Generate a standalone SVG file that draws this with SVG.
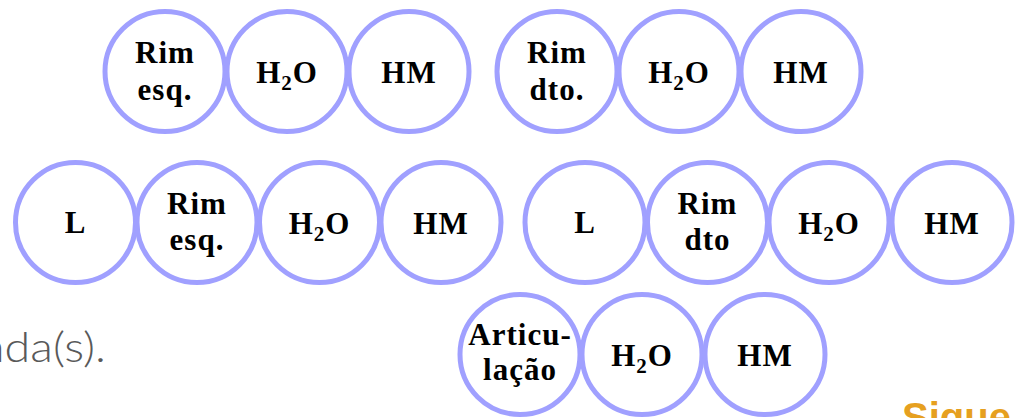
<svg xmlns="http://www.w3.org/2000/svg" width="1015" height="418" viewBox="0 0 1015 418">
<style>
.c{fill:none;stroke:#a0a0ff;stroke-width:5}
.t{font-family:"Liberation Serif",serif;font-weight:bold;font-size:31px;fill:#000;text-anchor:middle;letter-spacing:1px}
.s{font-size:21px}
.g{font-family:Lato,"Liberation Sans",sans-serif;font-weight:300;font-size:42px;fill:#595959}
.o{font-family:"Liberation Sans",Arial,sans-serif;font-weight:bold;font-size:40px;fill:#e6a020}
</style>
<g id="connectors"></g>
<g id="r1-rimesq"><circle class="c" cx="165" cy="71.5" r="60"/><text class="t" x="165" y="63">Rim</text><text class="t" x="165" y="100">esq.</text></g>
<g id="r1-h2o-a"><circle class="c" cx="287" cy="71.5" r="60"/><text class="t" x="287" y="83">H<tspan class="s" dy="7">2</tspan><tspan dy="-7">O</tspan></text></g>
<g id="r1-hm-a"><circle class="c" cx="409" cy="71.5" r="60"/><text class="t" x="409" y="83">HM</text></g>
<g id="r1-rimdto"><circle class="c" cx="557" cy="71.5" r="60"/><text class="t" x="557" y="63">Rim</text><text class="t" x="557" y="100">dto.</text></g>
<g id="r1-h2o-b"><circle class="c" cx="679" cy="71.5" r="60"/><text class="t" x="679" y="83">H<tspan class="s" dy="7">2</tspan><tspan dy="-7">O</tspan></text></g>
<g id="r1-hm-b"><circle class="c" cx="801" cy="71.5" r="60"/><text class="t" x="801" y="83">HM</text></g>

<g id="r2-l-a"><circle class="c" cx="75.5" cy="222.5" r="60"/><text class="t" x="75.5" y="233">L</text></g>
<g id="r2-rimesq"><circle class="c" cx="197" cy="222.5" r="60"/><text class="t" x="197" y="214">Rim</text><text class="t" x="197" y="250">esq.</text></g>
<g id="r2-h2o-a"><circle class="c" cx="319.5" cy="222.5" r="60"/><text class="t" x="319.5" y="234">H<tspan class="s" dy="7">2</tspan><tspan dy="-7">O</tspan></text></g>
<g id="r2-hm-a"><circle class="c" cx="441" cy="222.5" r="60"/><text class="t" x="441" y="234">HM</text></g>
<g id="r2-l-b"><circle class="c" cx="585" cy="222.5" r="60"/><text class="t" x="585" y="233">L</text></g>
<g id="r2-rimdto"><circle class="c" cx="707.5" cy="222.5" r="60"/><text class="t" x="707.5" y="214">Rim</text><text class="t" x="707.5" y="250">dto</text></g>
<g id="r2-h2o-b"><circle class="c" cx="829" cy="222.5" r="60"/><text class="t" x="829" y="234">H<tspan class="s" dy="7">2</tspan><tspan dy="-7">O</tspan></text></g>
<g id="r2-hm-b"><circle class="c" cx="952" cy="222.5" r="60"/><text class="t" x="952" y="234">HM</text></g>

<g id="r3-artic"><circle class="c" cx="520" cy="354.5" r="60"/><text class="t" x="520" y="345">Articu-</text><text class="t" x="520" y="380">lação</text></g>
<g id="r3-h2o"><circle class="c" cx="642" cy="354.5" r="60"/><text class="t" x="642" y="366">H<tspan class="s" dy="7">2</tspan><tspan dy="-7">O</tspan></text></g>
<g id="r3-hm"><circle class="c" cx="765" cy="354.5" r="60"/><text class="t" x="765" y="366">HM</text></g>

<text class="g" x="-18" y="362" textLength="124" lengthAdjust="spacingAndGlyphs">ada(s).</text>
<text class="o" x="902" y="431">Sigue</text>
</svg>
